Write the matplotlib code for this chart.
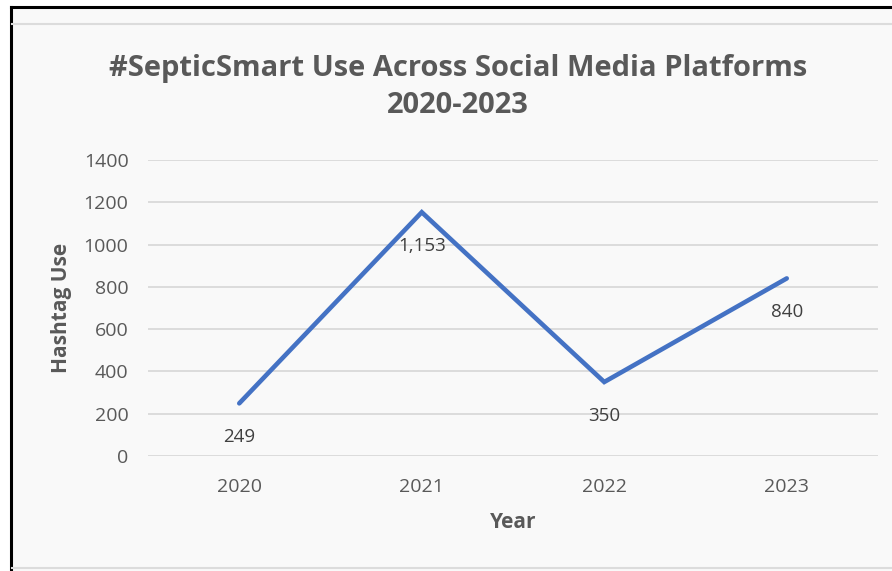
import matplotlib
matplotlib.use("Agg")
import matplotlib.pyplot as plt
from matplotlib.lines import Line2D

years = ["2020", "2021", "2022", "2023"]
hashtag_use = [249, 1153, 350, 840]
y_ticks = [0, 200, 400, 600, 800, 1000, 1200, 1400]

W, H = 892, 571
TEXT = "#595959"
LINE = "#4472C4"
GRID = "#d9d9d9"
BG = "#f9f9f9"

plt.rcParams["font.family"] = ["Open Sans", "DejaVu Sans"]


def fx(px):
    return px / W


def fy(py):
    return 1 - py / H


fig = plt.figure(figsize=(W / 100, H / 100), dpi=100)
fig.patch.set_facecolor("white")

# chart background and frame (screenshot look)
fig.patches.append(plt.Rectangle((fx(11), 0), 1 - fx(11), fy(7), transform=fig.transFigure,
                                 facecolor=BG, edgecolor="none", zorder=-10))
fig.lines.append(Line2D([fx(11), 1], [fy(7), fy(7)], transform=fig.transFigure, color="black", lw=2.2))
fig.lines.append(Line2D([fx(11), fx(11)], [0, fy(7)], transform=fig.transFigure, color="black", lw=2.2))
fig.lines.append(Line2D([fx(12), 1], [fy(24), fy(24)], transform=fig.transFigure, color="#dcdcdc", lw=1.5))
fig.lines.append(Line2D([fx(12), 1], [fy(568), fy(568)], transform=fig.transFigure, color="#dcdcdc", lw=1.5))

ax = fig.add_axes([fx(148), fy(456), fx(878) - fx(148), fy(160) - fy(456)])
ax.set_zorder(2)
ax.set_facecolor("none")

x = list(range(len(years)))
ax.plot(x, hashtag_use, color=LINE, lw=3.3, solid_capstyle="round", solid_joinstyle="miter", zorder=3)

for xi, v in zip(x, hashtag_use):
    ax.annotate(f"{v:,}", (xi, v), textcoords="offset points", xytext=(0, -24.5),
                ha="center", va="center", fontsize=13.5, color="#404040", zorder=4)

ax.set_xlim(-0.5, len(years) - 0.5)
ax.set_ylim(0, 1400)
ax.set_yticks(y_ticks)
ax.set_yticklabels([str(t) for t in y_ticks])
ax.set_xticks(x)
ax.set_xticklabels(years)
ax.tick_params(length=0, labelsize=14, labelcolor=TEXT)
ax.tick_params(axis="y", pad=14)
ax.tick_params(axis="x", pad=16)
ax.grid(axis="y", color=GRID, lw=1.3)
ax.set_axisbelow(True)
for s in ax.spines.values():
    s.set_visible(False)

fig.text(fx(458), fy(87), "#SepticSmart Use Across Social Media Platforms\n2020-2023",
         ha="center", va="center", fontsize=21, fontweight="bold", color=TEXT, linespacing=1.4)
fig.text(fx(62), fy(308), "Hashtag Use", rotation=90, ha="center", va="center",
         fontsize=15, fontweight="bold", color=TEXT)
fig.text(fx(513), fy(522), "Year", ha="center", va="center",
         fontsize=15, fontweight="bold", color=TEXT)

fig.savefig("out.png", dpi=100, facecolor=fig.get_facecolor())
